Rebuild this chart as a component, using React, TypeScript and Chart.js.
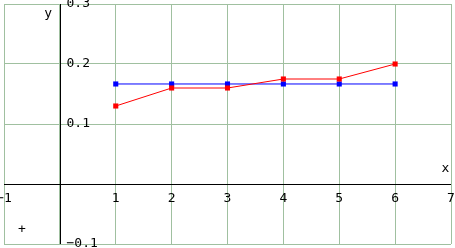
import React, { useEffect, useRef } from "react";
import { Chart, registerables } from "chart.js";

Chart.register(...registerables);

const xValues = [1, 2, 3, 4, 5, 6];
const redValues = [0.13, 0.16, 0.16, 0.175, 0.175, 0.2];
const blueValues = [0.1667, 0.1667, 0.1667, 0.1667, 0.1667, 0.1667];
const xTickLabels = ["−1", "1", "2", "3", "4", "5", "6", "7"];
const xTickValues = [-1, 1, 2, 3, 4, 5, 6, 7];
const yTickLabels = ["0.3", "0.2", "0.1", "−0.1"];
const yTickValues = [0.3, 0.2, 0.1, -0.1];

const FONT = "13px 'DejaVu Sans Mono', monospace";

const axesPlugin = {
  id: "axesThroughOrigin",
  beforeDatasetsDraw(chart: any) {
    const { ctx, chartArea } = chart;
    const xs = chart.scales.x;
    const ys = chart.scales.y;
    const x0 = Math.round(xs.getPixelForValue(0)) + 0.5;
    const y0 = Math.round(ys.getPixelForValue(0)) + 0.5;
    ctx.save();
    ctx.strokeStyle = "#000";
    ctx.lineWidth = 1;
    ctx.beginPath();
    ctx.moveTo(chartArea.left, y0);
    ctx.lineTo(chartArea.right, y0);
    ctx.moveTo(x0, chartArea.top);
    ctx.lineTo(x0, chartArea.bottom);
    ctx.stroke();

    ctx.fillStyle = "#000";
    ctx.font = FONT;
    ctx.textBaseline = "middle";
    ctx.textAlign = "left";
    yTickValues.forEach((v, i) => {
      ctx.fillText(yTickLabels[i], x0 + 6, ys.getPixelForValue(v));
    });
    ctx.textAlign = "center";
    xTickValues.forEach((v, i) => {
      ctx.fillText(xTickLabels[i], xs.getPixelForValue(v), y0 + 14);
    });
    ctx.fillText("x", xs.getPixelForValue(6.9), ys.getPixelForValue(0.025));
    ctx.fillText("y", xs.getPixelForValue(-0.21), ys.getPixelForValue(0.2833));
    ctx.fillText("+", xs.getPixelForValue(-0.68), ys.getPixelForValue(-0.0767));
    ctx.restore();
  },
};

export default function App() {
  const ref = useRef<HTMLCanvasElement | null>(null);
  useEffect(() => {
    if (!ref.current) return;
    const chart = new Chart(ref.current, {
      type: "line",
      data: {
        datasets: [
          {
            label: "red",
            data: xValues.map((x, i) => ({ x, y: redValues[i] })),
            borderColor: "#ff0000",
            backgroundColor: "#ff0000",
            borderWidth: 1,
            pointStyle: "rect",
            pointRadius: 3.6,
            pointBorderWidth: 0,
            tension: 0,
          },
          {
            label: "blue",
            data: xValues.map((x, i) => ({ x, y: blueValues[i] })),
            borderColor: "#0000ff",
            backgroundColor: "#0000ff",
            borderWidth: 1,
            pointStyle: "rect",
            pointRadius: 3.6,
            pointBorderWidth: 0,
            tension: 0,
          },
        ],
      },
      options: {
        animation: false,
        responsive: false,
        devicePixelRatio: 1,
        layout: { padding: { left: 3, right: 4, top: 4, bottom: 4 } },
        plugins: { legend: { display: false }, tooltip: { enabled: false } },
        scales: {
          x: {
            type: "linear",
            min: -1,
            max: 7,
            ticks: { display: false, stepSize: 1 },
            grid: { color: "#a0c0a0", drawTicks: false, lineWidth: 1 },
            border: { display: false },
          },
          y: {
            type: "linear",
            min: -0.1,
            max: 0.3,
            ticks: { display: false, stepSize: 0.1 },
            grid: { color: "#a0c0a0", drawTicks: false, lineWidth: 1 },
            border: { display: false },
          },
        },
      },
      plugins: [axesPlugin],
    });
    return () => chart.destroy();
  }, []);
  return (
    <div style={{ position: "fixed", left: 0, top: 0, width: 455, height: 248, background: "#fff" }}>
      <canvas ref={ref} width={455} height={248} style={{ display: "block" }} />
    </div>
  );
}
